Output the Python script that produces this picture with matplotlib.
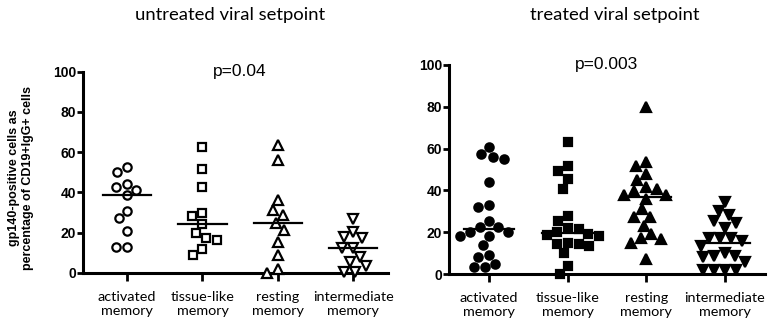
import numpy as np
import matplotlib
matplotlib.use('Agg')
import matplotlib.pyplot as plt

categories = ['activated\nmemory', 'tissue-like\nmemory', 'resting\nmemory', 'intermediate\nmemory']

# untreated viral setpoint (open markers)
u_activated = [52.7, 50.2, 44.1, 42.8, 41.1, 38.5, 30.5, 27.0, 20.7, 12.6, 12.6]
u_tissue = [62.7, 51.4, 42.8, 29.9, 28.2, 24.2, 19.6, 17.1, 16.3, 11.9, 8.8]
u_resting = [63.5, 56.0, 36.2, 31.2, 28.9, 24.9, 21.2, 15.4, 8.8, 1.7, 0.0]
u_intermediate = [26.5, 20.4, 17.9, 17.1, 12.3, 12.3, 8.0, 5.5, 3.3, 0.5, 0.5]

# treated viral setpoint (filled markers)
t_activated = [60.9, 57.4, 56.1, 54.9, 44.2, 33.0, 32.2, 25.5, 22.3, 22.3,
               20.3, 20.3, 18.2, 18.2, 13.9, 9.1, 8.3, 4.8, 3.2, 3.2]
t_tissue = [63.3, 51.7, 49.4, 45.3, 40.5, 27.8, 25.5, 21.9, 21.4, 20.2,
            19.0, 18.5, 18.0, 14.8, 14.4, 14.4, 13.4, 9.9, 3.8, 0.0]
t_resting = [79.7, 53.7, 51.7, 47.8, 45.0, 41.5, 40.5, 39.9, 37.8, 37.8,
             35.7, 30.9, 27.4, 27.1, 23.0, 19.1, 17.1, 16.6, 14.7, 7.0]
t_intermediate = [34.6, 30.3, 28.2, 25.5, 24.5, 21.9, 17.1, 17.1, 17.0, 15.9,
                  13.4, 10.2, 8.6, 8.6, 8.0, 5.9, 1.9, 1.9, 1.9, 1.9]

untreated = [u_activated, u_tissue, u_resting, u_intermediate]
treated = [t_activated, t_tissue, t_resting, t_intermediate]
markers = ['o', 's', '^', 'v']
msizes = [6, 5.5, 6.5, 6.5]


def beeswarm(values, ppu, d):
    # simple beeswarm in pixel space: closest free x for each point
    ys = np.asarray(values, dtype=float) * ppu
    xs = np.zeros(len(ys))
    placed = []
    for idx in np.argsort(-ys):
        y = ys[idx]
        cands = [0.0]
        blocks = []
        for j in placed:
            dy = abs(ys[j] - y)
            if dy < d:
                w = np.sqrt(d * d - dy * dy)
                blocks.append((xs[j] - w, xs[j] + w))
                cands += [xs[j] - w, xs[j] + w]
        cands.sort(key=lambda c: (abs(c), c))
        for c in cands:
            if all(not (lo + 1e-6 < c < hi - 1e-6) for lo, hi in blocks):
                xs[idx] = c
                break
        placed.append(idx)
    return xs


W, H = 779, 333
fig = plt.figure(figsize=(W / 100, H / 100), dpi=100)


def panel(rect, data, filled, xlim, px_per_cat, ptext):
    ax = fig.add_axes(rect)
    ppu = rect[3] * H / 100
    for i, vals in enumerate(data):
        x = i + beeswarm(vals, ppu, 11) / px_per_cat
        ax.plot(x, vals, linestyle='none', marker=markers[i], ms=msizes[i],
                mec='black', mew=1.6, mfc='black' if filled else 'white',
                clip_on=False, zorder=3)
        med = np.median(vals)
        ax.plot([i - 0.32, i + 0.32], [med, med], color='black', lw=1.6, zorder=4)
    ax.set_xlim(*xlim)
    ax.set_ylim(0, 100)
    ax.set_yticks(range(0, 101, 20))
    ax.set_xticks(range(4))
    ax.set_xticklabels(categories, fontsize=10.4, family='Lato')
    for lab in ax.get_yticklabels():
        lab.set_fontweight('bold')
        lab.set_family('Liberation Sans')
        lab.set_fontsize(10)
    ax.tick_params(axis='y', length=4, width=2, pad=1)
    ax.tick_params(axis='x', length=6, width=2, pad=7)
    for s in ['top', 'right']:
        ax.spines[s].set_visible(False)
    for s in ['left', 'bottom']:
        ax.spines[s].set_linewidth(2.2)
    ax.text(1.5, 100, ptext, ha='center', va='center', fontsize=12.5,
            family='Liberation Sans')
    return ax


panel([83 / W, 1 - 272.7 / H, (388 - 83) / W, 201 / H], untreated, False,
      (-0.584, 3.46), 75.3, 'p=0.04')
panel([449 / W, 1 - 274 / H, (765 - 449) / W, 209 / H], treated, True,
      (-0.508, 3.51), 78.7, 'p=0.003')

fig.text(230 / W, 1 - 15 / H, 'untreated viral setpoint', ha='center', va='center',
         fontsize=13.3, family='Lato')
fig.text(615 / W, 1 - 15 / H, 'treated viral setpoint', ha='center', va='center',
         fontsize=13.3, family='Lato')
fig.text(21 / W, 1 - 178 / H, 'gp140-positive cells as\npercentage of CD19+IgG+ cells',
         rotation=90, ha='center', va='center', fontsize=9, fontweight='bold',
         family='Liberation Sans', linespacing=1.25)

fig.savefig('out.png', dpi=100)
